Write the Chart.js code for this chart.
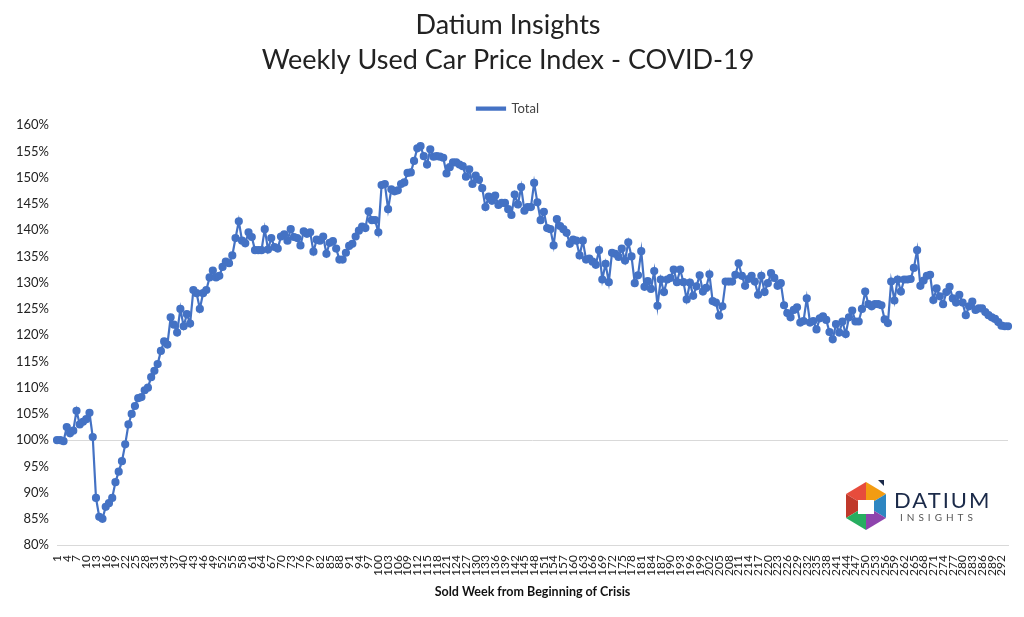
<!DOCTYPE html>
<html><head><meta charset="utf-8">
<script src="https://cdn.jsdelivr.net/npm/chart.js@4"></script>
<style>
html,body{margin:0;padding:0;background:#fff;}
#wrap{position:relative;width:1024px;height:617px;}
#logo{position:absolute;left:842px;top:478px;width:150px;height:56px;font-family:Lato,sans-serif;}
</style></head><body>
<div id="wrap"><canvas id="c" width="1024" height="617"></canvas>
<div id="logo">
<svg width="48" height="56" viewBox="0 0 48 56" style="position:absolute;left:0;top:0">
<polygon points="24,4 44,16 24,28" fill="#f39c12"/>
<polygon points="24,4 4,16 24,28" fill="#e74c3c"/>
<polygon points="4,16 24,28 4,40" fill="#c0392b"/>
<polygon points="44,16 24,28 44,40" fill="#2e86c1"/>
<polygon points="4,40 24,28 24,52" fill="#27ae60"/>
<polygon points="44,40 24,28 24,52" fill="#8e44ad"/>
<polygon points="16,22 32,22 32,36 16,36" fill="#fff"/>
<polygon points="36,2 42,2 42,8" fill="#1b2a49"/>
</svg>
<div style="position:absolute;left:52px;top:8px;font-size:22px;letter-spacing:2px;color:#1b2a49">DATIUM</div>
<div style="position:absolute;left:58px;top:33px;font-size:10px;letter-spacing:4px;color:#555">INSIGHTS</div>
</div></div>
<script>
const totalValues = [
100,100,99.8,102.5,101.3,101.8,105.6,103,103.5,104,105.2,100.6,89,85.4,85,87.3,88,89,92,94,96,99.2,103,105,106.5,108,108.2,109.5,110,112,113.2,114.5,117,118.8,118.2,123.4,122,120.5,125,121.7,124,122.2,128.6,128,125,128,128.6,131,132.3,131,131.3,133,134,133.7,135.2,138.5,
141.7,138,137.5,139.6,138.7,136.2,136.2,136.2,140.2,136.3,138.5,136.8,136.5,138.8,139.2,138,140.2,138.7,138.5,137.1,139.8,139.3,139.6,135.9,138.2,138,138.8,135.5,137.6,137.9,136.5,134.4,134.4,135.7,137,137.4,138.8,139.9,140.7,140.4,143.6,141.9,141.9,139.6,148.6,148.8,144,147.8,147.4,147.6,148.8,149.1,150.9,151,153.2,155.6,156,154.1,152.5,155.4,154,154.1,154,153.8,150.8,152,152.9,152.9,152.5,152.2,150.2,151.6,148.8,150.4,
149.6,148,144.4,146.4,145.6,146.6,144.8,145.2,145.2,144,142.9,146.8,144.9,148.2,143.7,144.4,144.4,149,145.3,141.9,143.5,140.4,140.2,137.1,142.1,140.8,140.2,139.5,137.4,138.2,138,135.2,138,134.4,134.6,134,133.4,136.2,130.6,133.6,130.1,135.7,135.5,134.9,136.5,134.2,137.7,135,129.9,131.4,136,129.2,130.3,128.8,132.2,125.6,130.6,128.2,130.6,130.9,132.5,130.1,132.5,130.1,126.8,130,127.5,129.3,131.4,128.3,129,131.6,126.5,126.2,123.7,125.5,
130.2,130.2,130.2,131.5,133.7,131.3,129.4,130.7,131.3,130.2,127.7,131.3,128.2,129.9,131.8,130.9,129.4,129.9,125.7,124.2,123.4,124.8,125.3,122.4,122.7,127,122.4,122.7,121.1,123.2,123.6,122.9,120.6,119.2,122.1,120.5,122.6,120.2,123.4,124.7,122.6,122.6,125,128.3,125.9,125.5,125.9,125.9,125.7,123,122.3,130.2,126.6,130.6,128.3,130.6,130.6,130.7,132.8,136.2,129.4,130.4,131.3,131.5,126.7,128.9,127.4,125.9,128.2,129.2,127,126.2,127.7,126.2,123.8,125.5,126.4,124.8,125.1,125.1,124.4,123.8,123.4,123.1,122.5,121.8,121.7,121.7
];
const weekLabels = totalValues.map((v,i)=>String(i+1));
const yTicks = {min:80,max:160,step:5};
const font = 'Lato, "Open Sans", sans-serif';
new Chart(document.getElementById('c'),{
 type:'line',
 data:{labels:weekLabels,datasets:[{label:'Total',data:totalValues,borderColor:'#4472c4',backgroundColor:'#4472c4',borderWidth:2.2,pointRadius:3,pointHoverRadius:3,tension:0}]},
 options:{responsive:false,animation:false,
  layout:{padding:{left:8,right:16,top:8,bottom:14}},
  plugins:{
   title:{display:true,text:['Datium Insights','Weekly Used Car Price Index - COVID-19'],font:{family:font,size:27,weight:'normal',lineHeight:1.3},color:'#222',padding:{bottom:10}},
   legend:{display:true,labels:{font:{family:font,size:13},color:'#444',boxWidth:28,boxHeight:2,padding:14}},
   tooltip:{enabled:false}},
  scales:{
   x:{grid:{display:false},border:{display:true,color:'#d9d9d9'},
      title:{display:true,text:'Sold Week from Beginning of Crisis',font:{family:font,size:12.5,weight:'bold'},color:'#111',padding:{top:6}},
      ticks:{autoSkip:false,maxRotation:90,minRotation:90,font:{family:font,size:12},color:'#222',padding:2,
        callback:function(v,i){return i%3===0?weekLabels[i]:null;}}},
   y:{min:yTicks.min,max:yTicks.max,
      grid:{color:c=>c.tick.value===100?'#d9d9d9':'rgba(0,0,0,0)',drawTicks:false},border:{display:false},
      ticks:{stepSize:yTicks.step,font:{family:font,size:13},color:'#222',padding:8,callback:v=>v+'%'}}
  }}
});
</script></body></html>
